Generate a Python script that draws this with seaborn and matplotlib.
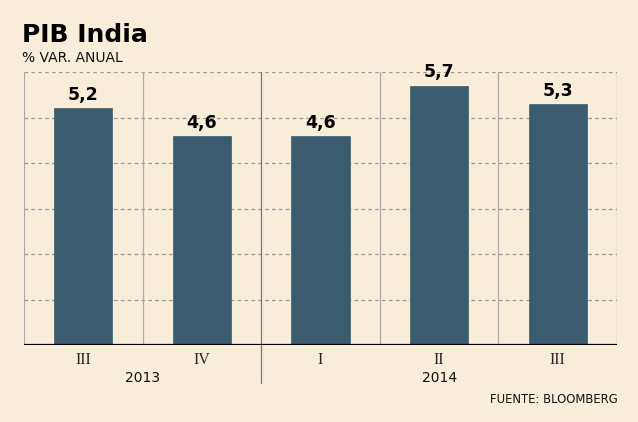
import matplotlib
matplotlib.use("Agg")
import matplotlib.pyplot as plt
import seaborn as sns
import pandas as pd

# Data
quarters = ["III", "IV", "I", "II", "III"]
years = ["2013", "2013", "2014", "2014", "2014"]
values = [5.2, 4.6, 4.6, 5.7, 5.3]
value_labels = ["5,2", "4,6", "4,6", "5,7", "5,3"]
year_labels = ["2013", "2014"]

BG = "#F8EDD9"
BAR = "#3A5C6E"

sns.set_style("white")
plt.rcParams["font.family"] = ["DejaVu Sans"]

df = pd.DataFrame({"key": [f"{q} {y}" for q, y in zip(quarters, years)], "valor": values})

fig = plt.figure(figsize=(6.38, 4.22), dpi=100, facecolor=BG)
ax = fig.add_axes([24/638, 1 - 345/422, (617-24)/638, (345-72)/422])
ax.set_facecolor(BG)

sns.barplot(data=df, x="key", y="valor", color=BAR, width=0.49, saturation=1, ax=ax,
            edgecolor=BAR, linewidth=0.5, zorder=3)

ax.set_ylim(0, 6)
ax.set_xlim(-0.5, len(values) - 0.5)
for g in range(1, 7):
    ax.axhline(g, color="#9a9a9a", lw=0.9, ls=(0, (3, 2.5)), zorder=1)

for i in range(len(values) + 1):
    xb = i - 0.5
    if i == 2:
        ax.axvline(xb, ymin=-0.14, ymax=1, color="#777777", lw=0.9, clip_on=False, zorder=2)
    else:
        ax.axvline(xb, color="#aaaaaa", lw=0.9, zorder=2)

ax.axhline(0, color="black", lw=1.6, zorder=4)

ax.bar_label(ax.containers[0], labels=value_labels, padding=3, fontsize=12.5,
             fontweight="bold", color="black")

for s in ax.spines.values():
    s.set_visible(False)
ax.set_yticks([])
ax.set_xticks(range(len(values)))
ax.set_xticklabels(quarters, family="Liberation Serif", fontsize=11.5)
ax.tick_params(axis="x", length=0, pad=5)
ax.set_xlabel("")
ax.set_ylabel("")

# Year labels
ax.text(0.5, -26/273, year_labels[0], transform=ax.get_xaxis_transform(), ha="center", va="top",
        fontsize=10, color="#111111")
ax.text(3.0, -26/273, year_labels[1], transform=ax.get_xaxis_transform(), ha="center", va="top",
        fontsize=10, color="#111111")

fig.text(22/638, 1 - 42/422, "PIB India", fontsize=18, fontweight="bold", color="black",
         ha="left", va="baseline")
fig.text(22/638, 1 - 62/422, "% VAR. ANUAL", fontsize=10, color="#111111", ha="left", va="baseline")
fig.text(618/638, 1 - 403/422, "FUENTE: BLOOMBERG", fontsize=8.4, color="#111111", ha="right",
         va="baseline")

fig.savefig("out.png", dpi=100, facecolor=BG)
